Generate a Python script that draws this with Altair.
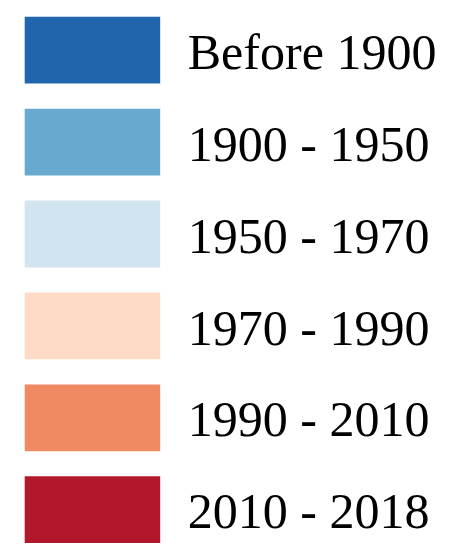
import altair as alt
import pandas as pd

categories = ["Before 1900", "1900 - 1950", "1950 - 1970", "1970 - 1990", "1990 - 2010", "2010 - 2018"]
colors = ["#2166ac", "#67a9cf", "#d1e5f0", "#fddbc7", "#ef8a62", "#b2182b"]

df = pd.DataFrame({"period": categories})

yscale = alt.Scale(range=[4, 540], paddingInner=0.2735, paddingOuter=0)

swatches = alt.Chart(df).mark_rect().encode(
    y=alt.Y("period:N", sort=categories, axis=None, scale=yscale),
    x=alt.value(17),
    x2=alt.value(155),
    color=alt.Color("period:N", sort=categories,
                    scale=alt.Scale(domain=categories, range=colors), legend=None),
)

labels = alt.Chart(df).mark_text(
    align="left", baseline="middle", font="Liberation Serif", fontSize=51,
    color="black", dy=4,
).encode(
    y=alt.Y("period:N", sort=categories, axis=None, bandPosition=0.5, scale=yscale),
    x=alt.value(183),
    text="period:N",
)

chart = alt.layer(swatches, labels).properties(
    width=441, height=538, autosize="none", padding=0
).configure_view(stroke=None)

chart.save("out.html", embed_options={"renderer": "svg", "actions": False})
